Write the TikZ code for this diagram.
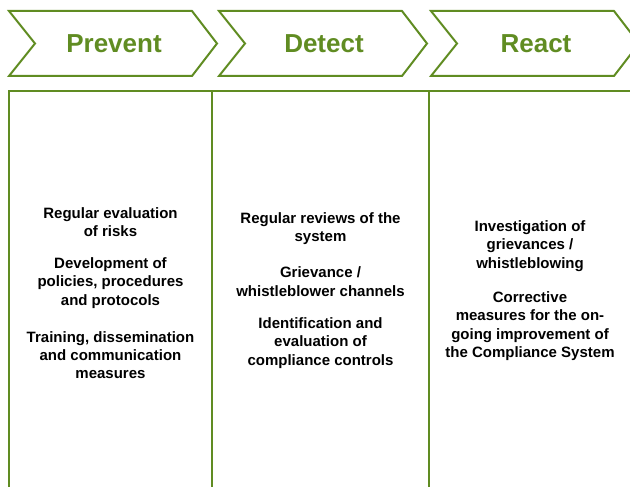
\documentclass[tikz,border=0pt]{standalone}
\usepackage{fontspec}
\setmainfont{Liberation Sans}
\definecolor{leafgreen}{RGB}{96,140,34}
\usetikzlibrary{positioning}

\begin{document}
\begin{tikzpicture}[
    x=1pt,y=-1pt,
    stage/.style={font=\fontsize{26}{30}\selectfont\bfseries,text=leafgreen},
    item/.style={align=center,font=\fontsize{15}{18.3}\selectfont\bfseries,inner sep=0pt},
    frame/.style={draw=leafgreen,line width=2pt}
  ]
  \useasboundingbox (0,0) rectangle (630,487);
  \clip (0,0) rectangle (630,487);
  % phase arrows
  \foreach \l/\name/\txt in {9/prev/Prevent,219/det/Detect,431/react/React}{
    \draw[frame] (\l,11) -- ++(183,0) -- ++(25,32.5) -- ++(-25,32.5) -- ++(-183,0) -- ++(26,-32.5) -- cycle;
    \node[stage] (\name) at (\l+105,43.5) {\txt};
  }
  % table below
  \coordinate (tl) at (9,91);
  \coordinate (tr) at (645,91);
  \draw[frame] (9,500) -- (tl) -- (tr);
  \draw[frame] (212,91) -- (212,500);
  \draw[frame] (429,91) -- (429,500);
  % prevent column
  \node[item] (risks) at (110.5,222) {Regular evaluation\\of risks};
  \node[item] (policies) at (110.5,283) {Development of\\policies, procedures\\and protocols};
  \node[item] (training) at (110.5,355) {Training, dissemination\\and communication\\measures};
  % detect column
  \node[item] (reviews) at (320.5,228.5) {Regular reviews of the\\system};
  \node[item] (channels) at (320.5,281.5) {Grievance /\\whistleblower channels};
  \node[item] (controls) at (320.5,343) {Identification and\\evaluation of\\compliance controls};
  % react column
  \node[item] (investigation) at (530,246) {Investigation of\\grievances /\\whistleblowing};
  \node[item] (corrective) at (530,326) {Corrective\\measures for the on-\\going improvement of\\the Compliance System};
\end{tikzpicture}
\end{document}
